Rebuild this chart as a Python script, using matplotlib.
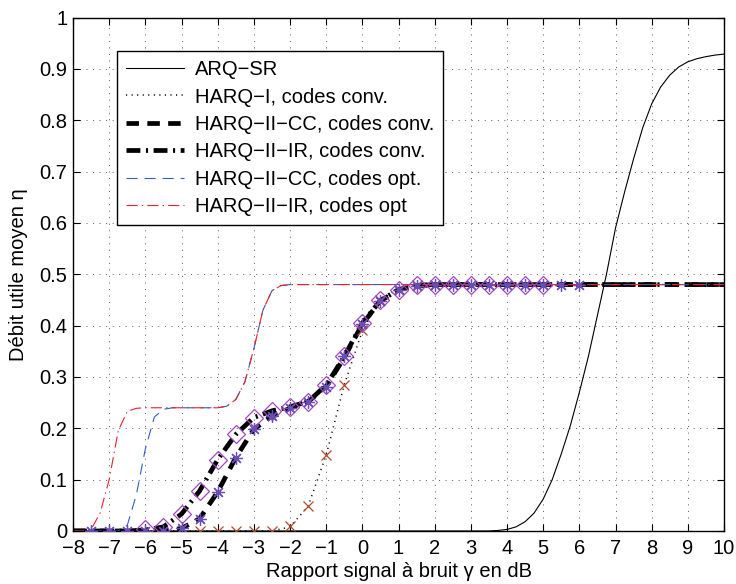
import matplotlib as mpl
import matplotlib.pyplot as plt

mpl.rcParams.update({"font.family": "sans-serif", "font.sans-serif": ["Liberation Sans", "DejaVu Sans"],
                     "lines.scale_dashes": False, "axes.linewidth": 1.0})

# ARQ-SR (solid)
snr_arq = [-8, 3.5, 3.75, 4.0, 4.25, 4.5, 4.75, 5.0, 5.25, 5.5, 5.75, 6.0, 6.25, 6.5, 6.75,
           7.0, 7.25, 7.5, 7.75, 8.0, 8.25, 8.5, 8.75, 9.0, 9.25, 9.5, 9.75, 10]
eta_arq = [0, 0, 0.001, 0.003, 0.008, 0.018, 0.035, 0.062, 0.1, 0.15, 0.205, 0.27, 0.34, 0.42, 0.5,
           0.59, 0.66, 0.725, 0.785, 0.832, 0.865, 0.888, 0.904, 0.914, 0.92, 0.924, 0.927, 0.929]

# HARQ-I, codes conv. (dotted)
snr_h1 = [-8, -2.5, -2.0, -1.5, -1.0, -0.5, 0.0, 0.5, 1.0, 1.5, 2.0, 10]
eta_h1 = [0, 0, 0.008, 0.048, 0.148, 0.285, 0.39, 0.45, 0.472, 0.479, 0.48, 0.48]

# HARQ-II codes conv.
snr_conv = [-8, -6.5, -6.0, -5.5, -5.0, -4.5, -4.0, -3.5, -3.0, -2.5, -2.0, -1.5, -1.0, -0.5,
            0.0, 0.5, 1.0, 1.5, 2.0, 10]
eta_cc_conv = [0, 0, 0, 0, 0.005, 0.024, 0.076, 0.143, 0.198, 0.224, 0.239, 0.252, 0.281, 0.338,
               0.403, 0.448, 0.47, 0.478, 0.48, 0.48]
eta_ir_conv = [0, 0, 0.002, 0.008, 0.033, 0.078, 0.139, 0.188, 0.221, 0.234, 0.242, 0.252, 0.284, 0.34,
               0.405, 0.449, 0.47, 0.478, 0.48, 0.48]

# HARQ-II codes opt.
snr_cc_opt = [-8, -6.75, -6.5, -6.25, -6.0, -5.75, -5.5, -5.25, -4.0, -3.75, -3.5, -3.25, -3.0,
              -2.75, -2.5, -2.25, -2.0, 10]
eta_cc_opt = [0, 0, 0.011, 0.07, 0.16, 0.222, 0.237, 0.24, 0.24, 0.243, 0.256, 0.29, 0.355,
              0.43, 0.468, 0.478, 0.48, 0.48]
snr_ir_opt = [-8, -7.75, -7.5, -7.25, -7.0, -6.75, -6.5, -6.25, -6.0, -4.0, -3.75, -3.5, -3.25,
              -3.0, -2.75, -2.5, -2.25, -2.0, 10]
eta_ir_opt = [0, 0, 0.003, 0.035, 0.1, 0.195, 0.233, 0.239, 0.24, 0.24, 0.243, 0.256, 0.29,
              0.355, 0.43, 0.468, 0.478, 0.48, 0.48]

# simulation points (markers)
sim_snr_d = [-6.0, -5.5, -5.0, -4.5, -4.0, -3.5, -3.0, -2.5, -2.0, -1.5, -1.0, -0.5,
             0.0, 0.5, 1.0, 1.5, 2.0, 2.5, 3.0, 3.5, 4.0, 4.5, 5.0]
sim_eta_d = [0.003, 0.008, 0.033, 0.078, 0.139, 0.188, 0.221, 0.234, 0.242, 0.252, 0.285, 0.34,
             0.405, 0.449, 0.47, 0.48, 0.48, 0.48, 0.48, 0.48, 0.48, 0.48, 0.48]
sim_snr_s = [-7.5, -7.0, -6.5, -6.0, -5.5, -5.0, -4.5, -4.0, -3.5, -3.0, -2.5, -2.0, -1.5, -1.0, -0.5,
             0.0, 0.5, 1.0, 1.5, 2.0, 2.5, 3.0, 3.5, 4.0, 4.5, 5.0, 5.5, 6.0]
sim_eta_s = [0, 0, 0, 0, 0, 0.005, 0.024, 0.076, 0.143, 0.198, 0.224, 0.239, 0.252, 0.281, 0.34,
             0.403, 0.448, 0.47, 0.478, 0.48, 0.48, 0.48, 0.48, 0.48, 0.48, 0.48, 0.48, 0.48]
sim_snr_x = [-4.5, -4.0, -3.5, -3.0, -2.5, -2.0, -1.5, -1.0, -0.5, 0.0, 0.5, 1.0, 1.5, 2.0]
sim_eta_x = [0, 0, 0, 0, 0, 0.009, 0.048, 0.148, 0.285, 0.392, 0.45, 0.472, 0.479, 0.48]

BLUE, RED = "#2f5fc4", "#e8202a"
FS = 14.5

fig = plt.figure(figsize=(7.36, 5.84), dpi=100)
ax = fig.add_axes([0.0992, 0.0908, 0.8845, 0.879])

ax.plot(snr_arq, eta_arq, color="k", lw=0.8, label="ARQ\u2212SR")
ax.plot(snr_h1, eta_h1, color="k", lw=1.1, dashes=(0.8, 3.2), label="HARQ\u2212I, codes conv.")
ax.plot(snr_conv, eta_cc_conv, color="k", lw=3.4, dashes=(9, 6), label="HARQ\u2212II\u2212CC, codes conv.")
ax.plot(snr_conv, eta_ir_conv, color="k", lw=3.4, dashes=(10, 4, 1.5, 4),
        label="HARQ\u2212II\u2212IR, codes conv.")
ax.plot(snr_cc_opt, eta_cc_opt, color=BLUE, lw=0.8, dashes=(8, 5), label="HARQ\u2212II\u2212CC, codes opt.")
ax.plot(snr_ir_opt, eta_ir_opt, color=RED, lw=0.8, dashes=(8, 3, 1, 3), label="HARQ\u2212II\u2212IR, codes opt")

ax.plot(sim_snr_x, sim_eta_x, ls="none", marker="x", ms=7, mew=0.9, color="#b04a2a", zorder=4)
ax.plot(sim_snr_d, sim_eta_d, ls="none", marker="D", ms=9.5, mew=0.9, mfc="none", color="#a446c0", zorder=5)
ax.plot(sim_snr_s, sim_eta_s, ls="none", marker=(8, 2, 0), ms=9, mew=0.9, color="#6a4cb4", zorder=6)

ax.set_xlim(-8, 10)
ax.set_ylim(0, 1)
ax.set_xticks(range(-8, 11))
ax.set_yticks([i / 10 for i in range(11)])
ax.set_yticklabels(["0"] + [f"{i / 10:.1f}" for i in range(1, 10)] + ["1"])
ax.tick_params(direction="in", top=True, right=True, length=5, labelsize=FS)
ax.tick_params(axis="x", pad=6)
ax.tick_params(axis="y", pad=4)
ax.grid(True, color="0.35", linewidth=0.7, dashes=(0.7, 4))
ax.set_xlabel("Rapport signal à bruit \u03b3 en dB", fontsize=FS, labelpad=3)
ax.set_ylabel("Débit utile moyen \u03b7", fontsize=FS, labelpad=8)

leg = ax.legend(loc="upper left", bbox_to_anchor=(0.0676, 0.935), fontsize=FS, fancybox=False,
                edgecolor="k", framealpha=1, handlelength=2.9, handletextpad=0.5,
                labelspacing=0.42, borderaxespad=0, borderpad=0.45)
leg.get_frame().set_linewidth(1.0)

fig.savefig("out.png", dpi=100)
